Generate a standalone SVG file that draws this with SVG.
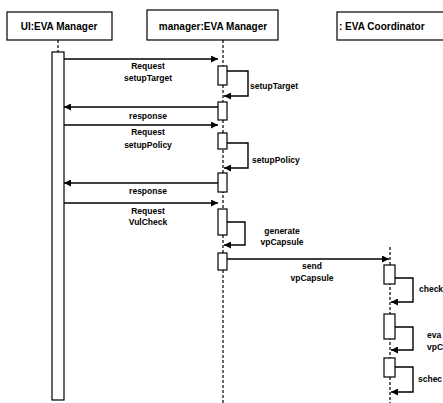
<svg xmlns="http://www.w3.org/2000/svg" width="443" height="403" viewBox="0 0 443 403">
<style>
.box{fill:#fff;stroke:#000;stroke-width:1.2}
.bar{fill:#fff;stroke:#000;stroke-width:1.2}
.life{stroke:#000;stroke-width:1.2;stroke-dasharray:3,2;fill:none}
.msg{stroke:#000;stroke-width:1.4;fill:none}
.t{font-family:"Liberation Sans",Arial,sans-serif;font-weight:bold;fill:#000}
.h{font-size:10px}
.l{font-size:8.5px}
</style>
<defs>
<marker id="ah" viewBox="0 0 8 8" refX="8" refY="4" markerWidth="7" markerHeight="7" markerUnits="userSpaceOnUse" orient="auto">
<path d="M0,0 L8,4 L0,8 z" fill="#000"/>
</marker>
</defs>
<rect width="443" height="403" fill="#fff"/>
<g id="lifelines">
<line class="life" x1="58" y1="40" x2="58" y2="52"/>
<line class="life" x1="223" y1="40" x2="223" y2="403"/>
<line class="life" x1="390" y1="247" x2="390" y2="403"/>
</g>
<g id="ui">
<rect class="box" x="7" y="12" width="105" height="28"/>
<text class="t h" x="59" y="30" text-anchor="middle">UI:EVA Manager</text>
<rect class="bar" x="52" y="52" width="12" height="348"/>
</g>
<g id="manager">
<rect class="box" x="147" y="10" width="131" height="30"/>
<text class="t h" x="213" y="30" text-anchor="middle">manager:EVA Manager</text>
<rect class="bar" x="218" y="66" width="9" height="19"/>
<rect class="bar" x="218" y="102" width="9" height="18"/>
<rect class="bar" x="218" y="133" width="9" height="16"/>
<rect class="bar" x="218" y="173" width="9" height="19"/>
<rect class="bar" x="218" y="209" width="9" height="26"/>
<rect class="bar" x="218" y="253" width="9" height="17"/>
</g>
<g id="coordinator">
<rect class="box" x="337" y="12" width="115" height="28"/>
<text class="t h" x="339" y="30">: EVA Coordinator</text>
<rect class="bar" x="384" y="265" width="11" height="19"/>
<rect class="bar" x="384" y="314" width="11" height="25"/>
<rect class="bar" x="384" y="358" width="11" height="19"/>
</g>
<g id="connectors">
<line class="msg" x1="64" y1="59" x2="218" y2="59" marker-end="url(#ah)"/>
<polyline class="msg" points="227,71 248,71 248,96 224,96" marker-end="url(#ah)"/>
<line class="msg" x1="218" y1="107" x2="64" y2="107" marker-end="url(#ah)"/>
<line class="msg" x1="64" y1="125" x2="218" y2="125" marker-end="url(#ah)"/>
<polyline class="msg" points="227,143 248,143 248,168 224,168" marker-end="url(#ah)"/>
<line class="msg" x1="218" y1="183" x2="64" y2="183" marker-end="url(#ah)"/>
<line class="msg" x1="64" y1="203" x2="218" y2="203" marker-end="url(#ah)"/>
<polyline class="msg" points="227,222 245,222 245,245 224,245" marker-end="url(#ah)"/>
<line class="msg" x1="227" y1="259" x2="389" y2="259" marker-end="url(#ah)"/>
<polyline class="msg" points="395,278 413,278 413,302 391,302" marker-end="url(#ah)"/>
<polyline class="msg" points="395,327 413,327 413,350 391,350" marker-end="url(#ah)"/>
<polyline class="msg" points="395,367 413,367 413,392 391,392" marker-end="url(#ah)"/>
</g>
<g id="labels">
<text class="t l" x="148" y="69" text-anchor="middle">Request</text>
<text class="t l" x="148" y="81" text-anchor="middle">setupTarget</text>
<text class="t l" x="250" y="89">setupTarget</text>
<text class="t l" x="148" y="119" text-anchor="middle">response</text>
<text class="t l" x="148" y="135" text-anchor="middle">Request</text>
<text class="t l" x="148" y="148" text-anchor="middle">setupPolicy</text>
<text class="t l" x="252" y="163">setupPolicy</text>
<text class="t l" x="148" y="194" text-anchor="middle">response</text>
<text class="t l" x="148" y="214" text-anchor="middle">Request</text>
<text class="t l" x="148" y="225" text-anchor="middle">VulCheck</text>
<text class="t l" x="282" y="234" text-anchor="middle">generate</text>
<text class="t l" x="282" y="245" text-anchor="middle">vpCapsule</text>
<text class="t l" x="312" y="269" text-anchor="middle">send</text>
<text class="t l" x="312" y="281" text-anchor="middle">vpCapsule</text>
<text class="t l" x="419" y="292">check</text>
<text class="t l" x="427" y="338">eva</text>
<text class="t l" x="427" y="350">vpC</text>
<text class="t l" x="418" y="382">schec</text>
</g>
</svg>
